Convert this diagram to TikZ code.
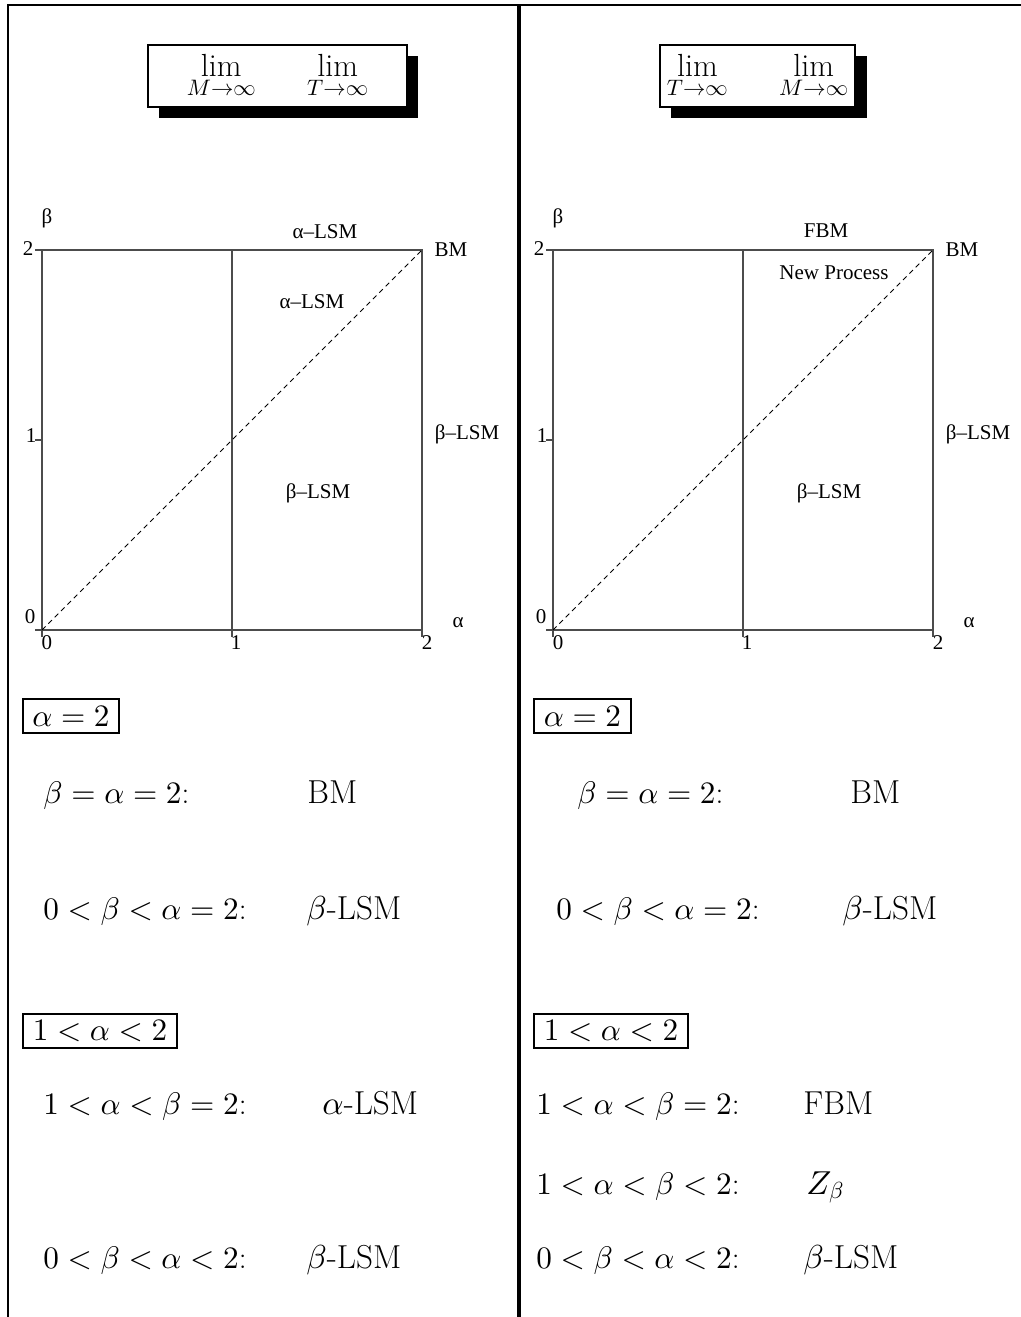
\documentclass[tikz,border=0pt]{standalone}
\usepackage{fontspec}
\newfontfamily\tms{Liberation Serif}
\DeclareFontShape{OML}{cmm}{m}{it}{<->cmmi10}{}
\DeclareFontShape{OMS}{cmsy}{m}{n}{<->cmsy10}{}
\DeclareFontShape{OT1}{cmr}{m}{n}{<->cmr10}{}
\begin{document}
\begin{tikzpicture}[x=0.5pt,y=-0.5pt,
  lbl/.style={font=\tms\fontsize{10.5}{12}\selectfont, inner sep=0pt},
  mth/.style={font=\fontsize{15.6}{19}\selectfont, inner sep=0pt},
  rmw/.style={font=\fontsize{16.6}{19}\selectfont, inner sep=0pt},
  ax/.style={draw=black!70, line width=0.75pt},
  diag/.style={line width=0.5pt, dash pattern=on 2.5pt off 2pt},
  limbox/.style={draw, fill=white, line width=1.3pt, minimum height=31pt, inner sep=0pt, font=\fontsize{16}{20}\selectfont},
  casebox/.style={draw, line width=1pt, inner sep=0pt, minimum height=17pt, font=\fontsize{15.6}{19}\selectfont},
]
\useasboundingbox (0,0) rectangle (1021,1317);
% frame
\draw[line width=1.4pt] (8,1317) -- (8,5) -- (1021,5);
\draw[line width=1.9pt] (519,5) -- (519,1317);

% lim boxes with shadows
\fill (159,56) rectangle (418,118);
\node[limbox, minimum width=129.5pt] (boxL) at (277.5,76)
  {$\displaystyle\lim_{M\to\infty}\hskip 23pt\lim_{T\to\infty}$};

\fill (671,56) rectangle (867,118);
\node[limbox, minimum width=97.5pt] (boxR) at (757.5,76)
  {$\displaystyle\lim_{T\to\infty}\hskip 23pt\lim_{M\to\infty}$};

% plots
\foreach \dx/\s in {0/L,511/R}{
\begin{scope}[xshift={\dx*0.5pt}]
  \draw[ax] (35,630) -- (422,630);
  \draw[ax] (42,637) -- (42,250) -- (422,250) -- (422,637);
  \draw[ax] (232,250) -- (232,637);
  \draw[ax] (35,250) -- (42,250) (35,440) -- (42,440);
  \draw[diag] (42,630) -- (422,250);
  \node[lbl] (y2\s) at (28,249) {2};
  \node[lbl] (y1\s) at (31,436) {1};
  \node[lbl] (y0\s) at (30,617) {0};
  \node[lbl] (x0\s) at (47,643) {0};
  \node[lbl] (x1\s) at (236,643) {1};
  \node[lbl] (x2\s) at (427,643) {2};
  \node[lbl] (beta\s) at (47,218) {β};
  \node[lbl] (alpha\s) at (458,623) {α};
  \node[lbl] (bm\s) at (451,250) {BM};
  \node[lbl] (blsmR\s) at (467,434) {β–LSM};
  \node[lbl] (blsmI\s) at (318,493) {β–LSM};
\end{scope}
}
\node[lbl] (alsmT) at (325,232) {α–LSM};
\node[lbl] (alsmI) at (312,302) {α–LSM};
\node[lbl] (fbmT) at (826,231) {FBM};
\node[lbl] (newp) at (834,273) {New Process};

% lower left
\node[casebox, minimum width=48pt] (cL1) at (71,716) {$\alpha=2$};
\node[mth, anchor=base west] (aL1) at (43,803) {$\beta=\alpha=2$:};
\node[rmw, anchor=base west] (bL1) at (307,803) {BM};
\node[mth, anchor=base west] (aL2) at (43,919) {$0<\beta<\alpha=2$:};
\node[rmw, anchor=base west] (bL2) at (306,919) {$\beta$-LSM};
\node[casebox, minimum width=77pt] (cL2) at (100,1031) {$1<\alpha<2$};
\node[mth, anchor=base west] (aL3) at (43,1114) {$1<\alpha<\beta=2$:};
\node[rmw, anchor=base west] (bL3) at (322,1114) {$\alpha$-LSM};
\node[mth, anchor=base west] (aL4) at (43,1268) {$0<\beta<\alpha<2$:};
\node[rmw, anchor=base west] (bL4) at (306,1268) {$\beta$-LSM};

% lower right
\node[casebox, minimum width=48.5pt] (cR1) at (582.5,716) {$\alpha=2$};
\node[mth, anchor=base west] (aR1) at (577,803) {$\beta=\alpha=2$:};
\node[rmw, anchor=base west] (bR1) at (850,803) {BM};
\node[mth, anchor=base west] (aR2) at (556,919) {$0<\beta<\alpha=2$:};
\node[rmw, anchor=base west] (bR2) at (842,919) {$\beta$-LSM};
\node[casebox, minimum width=77pt] (cR2) at (611,1031) {$1<\alpha<2$};
\node[mth, anchor=base west] (aR3) at (536,1114) {$1<\alpha<\beta=2$:};
\node[rmw, anchor=base west] (bR3) at (803,1114) {FBM};
\node[mth, anchor=base west] (aR4) at (536,1194) {$1<\alpha<\beta<2$:};
\node[rmw, anchor=base west] (bR4) at (806,1194) {$Z_\beta$};
\node[mth, anchor=base west] (aR5) at (536,1268) {$0<\beta<\alpha<2$:};
\node[rmw, anchor=base west] (bR5) at (803,1268) {$\beta$-LSM};
\end{tikzpicture}
\end{document}
